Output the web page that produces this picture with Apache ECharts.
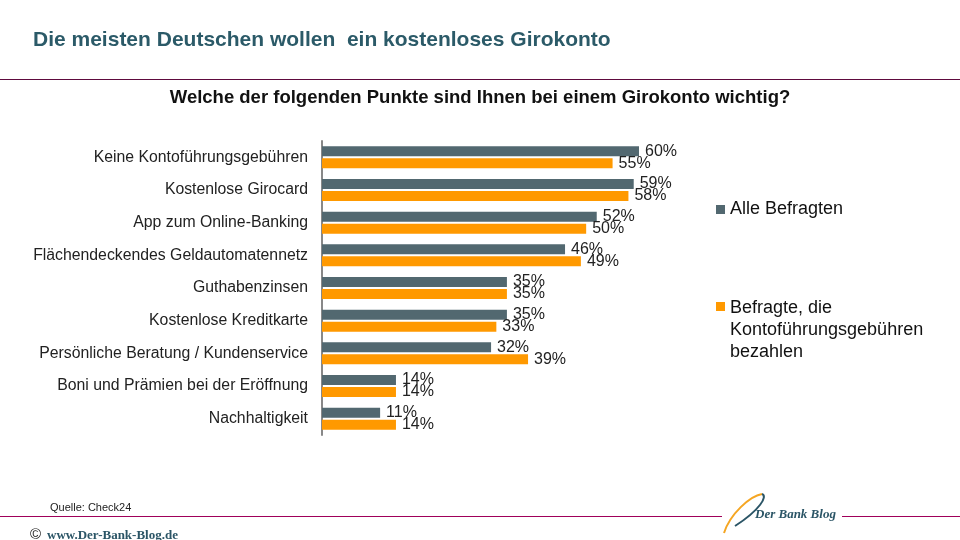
<!DOCTYPE html>
<html><head><meta charset="utf-8">
<script src="https://cdn.jsdelivr.net/npm/echarts@6/dist/echarts.min.js"></script>
<style>html,body{margin:0;padding:0;background:#fff}#c{width:960px;height:540px}</style>
</head><body><div id="c"></div>
<script>
const categories = ['Keine Kontoführungsgebühren','Kostenlose Girocard','App zum Online-Banking','Flächendeckendes Geldautomatennetz','Guthabenzinsen','Kostenlose Kreditkarte','Persönliche Beratung / Kundenservice','Boni und Prämien bei der Eröffnung','Nachhaltigkeit'];
const alleBefragten = [60,59,52,46,35,35,32,14,11];
const gebuehrenZahler = [55,58,50,49,35,33,39,14,14];
const seriesNames = ['Alle Befragten','Befragte, die\nKontoführungsgebühren\nbezahlen'];
const colors = ['#526870','#ff9900'];

const FF = 'Liberation Sans, Arial, sans-serif';
const chart = echarts.init(document.getElementById('c'));
const lbl = {show:true, position:'right', distance:6, formatter:'{c}%', color:'#222', fontSize:16, fontFamily:FF};
chart.setOption({
  animation:false,
  title:[
    {text:'Die meisten Deutschen wollen  ein kostenloses Girokonto', left:33, top:30, padding:0, textStyle:{color:'#2b5a68', fontSize:21, fontWeight:'bold', fontFamily:FF}},
    {text:'Welche der folgenden Punkte sind Ihnen bei einem Girokonto wichtig?', left:'center', top:88, padding:0, textStyle:{color:'#111', fontSize:18.5, fontWeight:'bold', fontFamily:FF}},
    {text:'Quelle: Check24', left:50, top:502, padding:0, textStyle:{color:'#222', fontSize:11, fontWeight:'normal', fontFamily:FF}}
  ],
  grid:{left:322, top:141, width:317/60*100, height:294, containLabel:false},
  xAxis:{type:'value', min:0, max:100, show:false},
  yAxis:{type:'category', inverse:true, data:categories,
    axisLine:{show:true, lineStyle:{color:'#888', width:2}}, axisTick:{show:false},
    axisLabel:{color:'#222', fontSize:15.8, margin:14, fontFamily:FF}},
  series:[
    {name:seriesNames[0], type:'bar', data:alleBefragten, barWidth:10, barGap:'20%', itemStyle:{color:colors[0]}, label:lbl},
    {name:seriesNames[1], type:'bar', data:gebuehrenZahler, barWidth:10, barGap:'20%', itemStyle:{color:colors[1]}, label:lbl}
  ],
  graphic:[
    {type:'line', shape:{x1:0,y1:79.5,x2:960,y2:79.5}, style:{stroke:'#5e0a3e', lineWidth:1}},
    {type:'line', shape:{x1:0,y1:516.5,x2:722,y2:516.5}, style:{stroke:'#a0005a', lineWidth:1}},
    {type:'line', shape:{x1:842,y1:516.5,x2:960,y2:516.5}, style:{stroke:'#a0005a', lineWidth:1}},
    {type:'rect', shape:{x:716,y:205,width:9,height:9}, style:{fill:colors[0]}},
    {type:'text', x:730, y:209, style:{text:seriesNames[0], fill:'#111', fontSize:18, verticalAlign:'middle', fontFamily:FF}},
    {type:'rect', shape:{x:716,y:302,width:9,height:9}, style:{fill:colors[1]}},
    {type:'text', x:730, y:297, style:{text:seriesNames[1], fill:'#111', fontSize:18, lineHeight:22, verticalAlign:'top', fontFamily:FF}},
    {type:'text', x:30, y:535, style:{text:'©', fill:'#222', fontSize:15, verticalAlign:'middle', fontFamily:FF}},
    {type:'text', x:47, y:536, style:{text:'www.Der-Bank-Blog.de', fill:'#2b5566', fontSize:13, fontWeight:'bold', verticalAlign:'middle', fontFamily:'Liberation Serif, Times New Roman, serif'}},
    {type:'text', x:755, y:515, style:{text:'Der Bank Blog', fill:'#2b5566', fontSize:13, fontWeight:'bold', fontStyle:'italic', verticalAlign:'middle', fontFamily:'Liberation Serif, Times New Roman, serif'}},
    {type:'bezierCurve', shape:{x1:724,y1:533,x2:762,y2:494,cpx1:730,cpy1:514,cpx2:750,cpy2:496}, style:{stroke:'#f5a623', lineWidth:2, fill:null}},
    {type:'bezierCurve', shape:{x1:735,y1:526,x2:762,y2:494,cpx1:760,cpy1:510,cpx2:768,cpy2:496}, style:{stroke:'#2b5566', lineWidth:2, fill:null}}
  ]
});
</script></body></html>
